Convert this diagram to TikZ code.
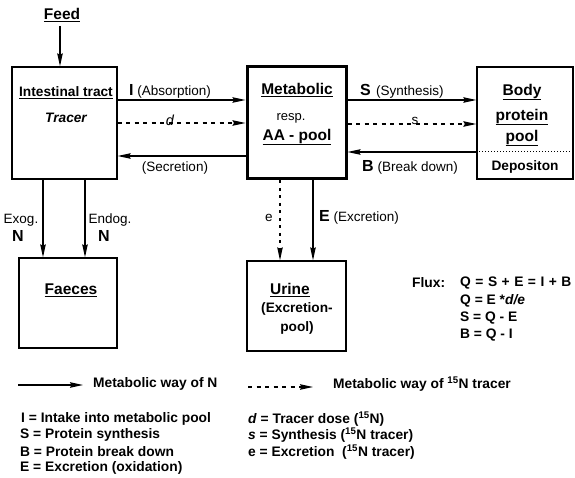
\documentclass[tikz,border=0pt]{standalone}
\usepackage{fontspec}
\setmainfont{Liberation Sans}
\usetikzlibrary{arrows.meta}
\newcommand{\flowletter}[1]{{\bfseries\fontsize{16}{18}\selectfont #1}}
\begin{document}
\begin{tikzpicture}[x=1pt,y=-1pt,
  box/.style={draw, line width=1.3pt, inner sep=0pt},
  flow/.style={line width=1.1pt, -{Stealth[length=13pt,width=5.5pt,inset=1.5pt]}},
  tracer/.style={flow, dash pattern=on 4pt off 4.5pt},
  ttl/.style={inner sep=0pt, font=\bfseries\fontsize{15.5}{17}\selectfont},
  sttl/.style={inner sep=0pt, font=\bfseries\fontsize{13.7}{16}\selectfont},
  trc/.style={inner sep=0pt, font=\bfseries\itshape\fontsize{13.7}{16}\selectfont},
  txt/.style={inner sep=0pt, font=\fontsize{13.5}{16}\selectfont},
  big/.style={inner sep=0pt, font=\bfseries\fontsize{16}{18}\selectfont},
  leg/.style={inner sep=0pt, anchor=west, font=\bfseries\fontsize{13.8}{16}\selectfont},
]
\useasboundingbox (0,0) rectangle (575,478);

% boxes
\node[box, minimum width=105pt, minimum height=112pt] (int) at (64.5,123) {};
\node[box, line width=3pt, minimum width=99pt, minimum height=112pt] (met) at (296.5,123) {};
\node[box, minimum width=96pt, minimum height=112pt] (body) at (525,123) {};
\node[box, minimum width=98pt, minimum height=90pt] (fae) at (68,303) {};
\node[box, minimum width=99pt, minimum height=90pt] (uri) at (296.5,306) {};

% helper coordinates
\coordinate (yI) at (0,100);
\coordinate (yd) at (0,123);
\coordinate (ysec) at (0,156);
\coordinate (ys) at (0,124);
\coordinate (yB) at (0,152);
\coordinate (ydot) at (0,151);
\coordinate (xf) at (60,0);
\coordinate (xex) at (43,0);
\coordinate (xen) at (85,0);
\coordinate (xe) at (280,0);
\coordinate (xE) at (313,0);

% texts in boxes
\node[ttl] (feed) at (62,15) {\underline{Feed}};
\node[sttl] (intt) at (66,93) {\underline{Intestinal tract}};
\node[trc] (tracer) at (66,118) {Tracer};
\node[ttl] (metab) at (297,90) {\underline{Metabolic}};
\node[inner sep=0pt, font=\fontsize{13}{15}\selectfont] (resp) at (291,118) {resp.};
\node[ttl] (aapool) at (297,137) {\underline{AA - pool}};
\node[ttl] (bodyt) at (522,92) {\underline{Body}};
\node[ttl] (prot) at (522,117) {\underline{protein}};
\node[ttl] (poolt) at (522,138) {\underline{pool}};
\node[sttl] (dep) at (525,167) {Depositon};
\node[ttl] (faet) at (71,290) {\underline{Faeces}};
\node[ttl] (urit) at (290,290) {\underline{Urine}};
\node[sttl] (uri2) at (297,309) {(Excretion-};
\node[sttl] (uri3) at (297,328) {pool)};

% body divider
\draw[line width=0.8pt, dash pattern=on 1pt off 2pt] (body.west |- ydot) -- (body.east |- ydot);

% connectors
\draw[flow, shorten <=4pt] (feed.south -| xf) -- (int.north -| xf);
\draw[flow] (int.east |- yI) -- (met.west |- yI);
\draw[tracer] (int.east |- yd) -- (met.west |- yd);
\draw[flow] (met.west |- ysec) -- (int.east |- ysec);
\draw[flow] (met.east |- yI) -- (body.west |- yI);
\draw[tracer] (met.east |- ys) -- (body.west |- ys);
\draw[flow] (body.west |- yB) -- (met.east |- yB);
\draw[flow] (int.south -| xex) -- (fae.north -| xex);
\draw[flow] (int.south -| xen) -- (fae.north -| xen);
\draw[flow, dash pattern=on 3pt off 4.5pt] (met.south -| xe) -- (uri.north -| xe);
\draw[flow] (met.south -| xE) -- (uri.north -| xE);

% connector labels
\node[txt, anchor=base west] (lI) at (129,96) {\flowletter{I} (Absorption)};
\node[inner sep=0pt, font=\itshape\fontsize{14.5}{16}\selectfont] (ld) at (170,120) {d};
\node[txt] (lsec) at (175,168) {(Secretion)};
\node[txt, anchor=base west] (lS) at (360,96) {\flowletter{S}\hspace{1.5pt} (Synthesis)};
\node[txt] (ls) at (415,121) {s};
\node[txt, anchor=base west] (lB) at (362,172) {\flowletter{B} (Break down)};
\node[txt, anchor=base west] (lE) at (319,222) {\flowletter{E} (Excretion)};
\node[txt] (le) at (269,218) {e};
\node[txt] (lexo) at (21,220) {Exog.};
\node[big] (lN1) at (18,236) {N};
\node[txt] (lendo) at (110,220) {Endog.};
\node[big] (lN2) at (104,236) {N};

% flux equations
\node[leg] (flux) at (412,283) {Flux:};
\node[leg] (f1) at (460,283) {\spaceskip=4.5pt Q = S + E = I + B};
\node[leg] (f2) at (460,301) {Q = E *\textit{d/e}};
\node[leg] (f3) at (460,318) {S = Q - E};
\node[leg] (f4) at (460,335) {B = Q - I};

% legend
\coordinate (la1) at (18,385);
\coordinate (la2) at (83,385);
\draw[flow] (la1) -- (la2);
\node[leg] (lg1) at (93,384) {Metabolic way of N};
\coordinate (lb1) at (248,387);
\coordinate (lb2) at (313,387);
\draw[tracer] (lb1) -- (lb2);
\node[leg] (lg2) at (333,384) {Metabolic way of \textsuperscript{15}N tracer};

\node[leg] (k1) at (21,419) {I = Intake into metabolic pool};
\node[leg] (k2) at (20,435) {S = Protein synthesis};
\node[leg] (k3) at (20,452) {B = Protein break down};
\node[leg] (k4) at (20,468) {E = Excretion (oxidation)};
\node[leg] (k5) at (248,419) {\textit{d} = Tracer dose (\textsuperscript{15}N)};
\node[leg] (k6) at (248,435) {\textit{s} = Synthesis (\textsuperscript{15}N tracer)};
\node[leg] (k7) at (248,452) {e = Excretion\ \ (\textsuperscript{15}N tracer)};
\end{tikzpicture}
\end{document}
